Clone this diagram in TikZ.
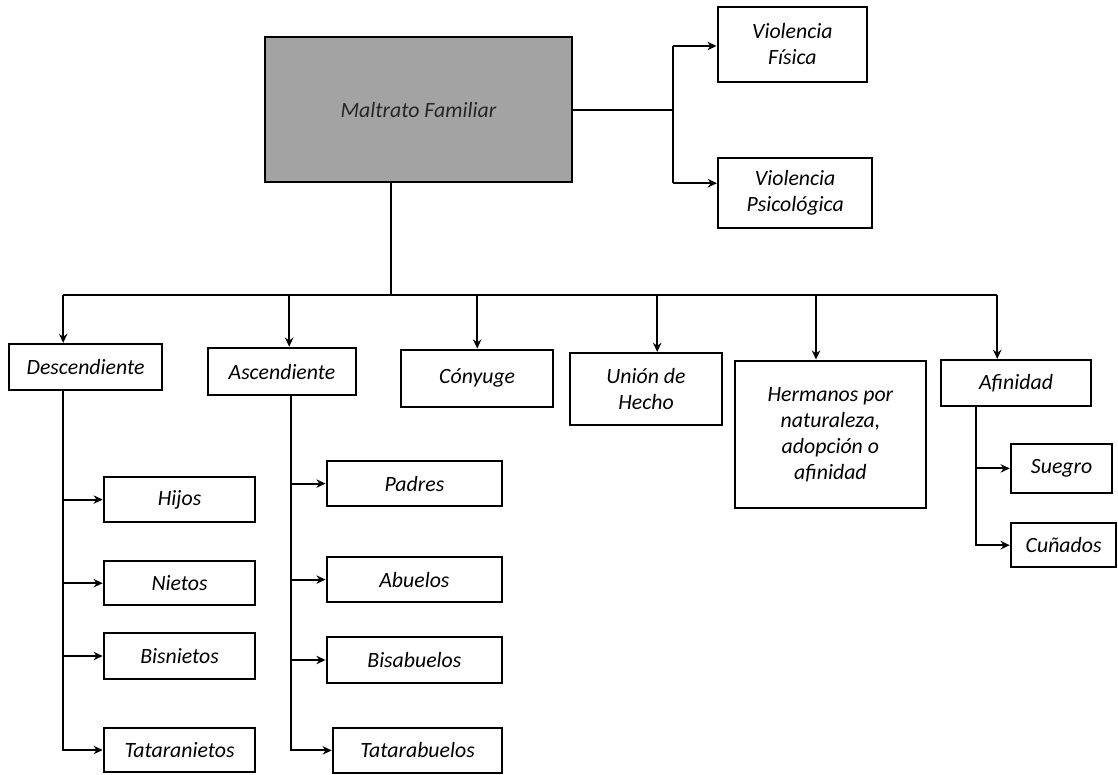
\documentclass[tikz,border=0pt]{standalone}
\usepackage{fontspec}
\setmainfont{Carlito}
\usepackage{tikz}
\usetikzlibrary{arrows,arrows.meta}
\tikzstyle{caja}=[rectangle,draw,fill=white,line width=1.8pt,inner sep=2pt,align=center,font=\fontsize{15.5}{18.5}\selectfont\itshape]
\tikzstyle{raiz}=[caja,fill=black!36,text=black!85]
\tikzstyle{linea}=[draw,line width=1.5pt]
\tikzstyle{flecha}=[-{Stealth[length=6.5pt,width=6pt]},draw,line width=1.5pt]

\begin{document}
\begin{tikzpicture}
    \useasboundingbox (0,0) rectangle (27.95,-19.375);
    % nivel superior
    \node[raiz,minimum width=7.68cm,minimum height=3.63cm] (MF) at (10.46,-2.74) {Maltrato Familiar};
    \node[caja,minimum width=3.73cm,minimum height=1.88cm] (VF) at (19.81,-1.11) {Violencia\\Física};
    \node[caja,minimum width=3.85cm,minimum height=1.75cm] (VP) at (19.88,-4.83) {Violencia\\Psicológica};
    % segundo nivel
    \node[caja,minimum width=3.83cm,minimum height=1.15cm] (DE) at (2.14,-9.18) {Descendiente};
    \node[caja,minimum width=3.70cm,minimum height=1.18cm] (AS) at (7.05,-9.29) {Ascendiente};
    \node[caja,minimum width=3.80cm,minimum height=1.43cm] (CO) at (11.93,-9.46) {Cónyuge};
    \node[caja,minimum width=3.80cm,minimum height=1.80cm] (UH) at (16.15,-9.73) {Unión de\\Hecho};
    \node[caja,minimum width=4.78cm,minimum height=3.68cm] (HE) at (20.76,-10.86) {Hermanos por\\naturaleza,\\adopción o\\afinidad};
    \node[caja,minimum width=3.75cm,minimum height=1.15cm] (AF) at (25.40,-9.58) {Afinidad};
    % descendientes
    \node[caja,minimum width=3.78cm,minimum height=1.13cm] (HI) at (4.49,-12.49) {Hijos};
    \node[caja,minimum width=3.78cm,minimum height=1.10cm] (NI) at (4.49,-14.58) {Nietos};
    \node[caja,minimum width=3.78cm,minimum height=1.15cm] (BN) at (4.49,-16.40) {Bisnietos};
    \node[caja,minimum width=3.78cm,minimum height=1.10cm] (TN) at (4.49,-18.75) {Tataranietos};
    % ascendientes
    \node[caja,minimum width=4.38cm,minimum height=1.13cm] (PA) at (10.36,-12.09) {Padres};
    \node[caja,minimum width=4.38cm,minimum height=1.13cm] (AB) at (10.36,-14.49) {Abuelos};
    \node[caja,minimum width=4.38cm,minimum height=1.15cm] (BA) at (10.36,-16.50) {Bisabuelos};
    \node[caja,minimum width=4.23cm,minimum height=1.13cm] (TA) at (10.44,-18.76) {Tatarabuelos};
    % afinidad
    \node[caja,minimum width=2.53cm,minimum height=1.23cm] (SU) at (26.54,-11.71) {Suegro};
    \node[caja,minimum width=2.63cm,minimum height=1.10cm] (CU) at (26.59,-13.63) {Cuñados};
    % tipos de violencia
    \coordinate (J0) at (16.83,-2.74);
    \coordinate (J1) at (16.83,-1.15);
    \coordinate (J2) at (16.83,-4.58);
    \draw[linea] (MF.east) -- (J0);
    \draw[linea] (J1) -- (J2);
    \draw[flecha] (J1) -- (J1 -| VF.west);
    \draw[flecha] (J2) -- (J2 -| VP.west);
    % barra horizontal
    \coordinate (B0) at (9.78,-7.38);
    \coordinate (B1) at (1.58,-7.38);
    \coordinate (B2) at (7.23,-7.38);
    \coordinate (B3) at (11.93,-7.38);
    \coordinate (B4) at (16.43,-7.38);
    \coordinate (B5) at (20.40,-7.38);
    \coordinate (B6) at (24.93,-7.38);
    \draw[linea] (B0 |- MF.south) -- (B0);
    \draw[linea] (B1) -- (B6);
    \foreach \b/\n in {B1/DE,B2/AS,B3/CO,B4/UH,B5/HE,B6/AF}
        \draw[flecha] (\b) -- (\b |- \n.north);
    % ramas
    \coordinate (T1) at (1.58,-9.18);
    \coordinate (T2) at (7.28,-9.29);
    \coordinate (T3) at (24.40,-9.58);
    \foreach \n in {HI,NI,BN,TN}
        \draw[flecha] (T1 |- DE.south) |- (\n);
    \foreach \n in {PA,AB,BA,TA}
        \draw[flecha] (T2 |- AS.south) |- (\n);
    \foreach \n in {SU,CU}
        \draw[flecha] (T3 |- AF.south) |- (\n);
\end{tikzpicture}
\end{document}
